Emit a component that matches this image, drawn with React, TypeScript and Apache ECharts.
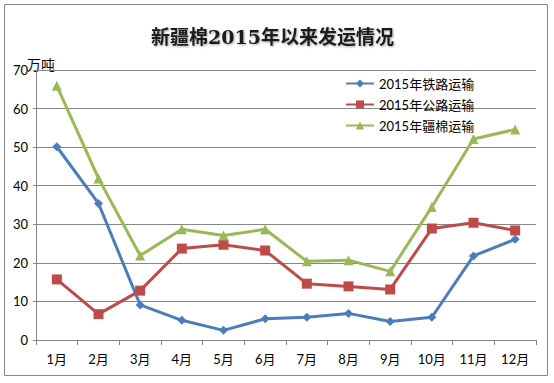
import React, { useEffect, useRef } from "react";
import * as echarts from "echarts";

const categories = ["1月", "2月", "3月", "4月", "5月", "6月", "7月", "8月", "9月", "10月", "11月", "12月"];
const railway = [50.1, 35.4, 9.1, 5.1, 2.5, 5.5, 5.9, 6.9, 4.8, 5.9, 21.8, 26.1];
const road = [15.7, 6.7, 12.8, 23.7, 24.7, 23.2, 14.6, 13.9, 13.1, 28.9, 30.4, 28.4];
const cotton = [65.9, 41.9, 21.9, 28.7, 27.1, 28.7, 20.4, 20.7, 17.8, 34.5, 52.1, 54.6];
const seriesNames = ["2015年铁路运输", "2015年公路运输", "2015年疆棉运输"];
const yTicks = { min: 0, max: 70, interval: 10 };

const FONT = "Lato, 'Noto Sans CJK SC', sans-serif";

export default function App() {
  const ref = useRef<HTMLDivElement>(null);
  useEffect(() => {
    const chart = echarts.init(ref.current!, null, { renderer: "svg" });
    const colors = ["#4A7EBB", "#BE4B48", "#98B954"];
    const symbols = ["diamond", "rect", "triangle"];
    const sizes = [9, 10, 10];
    const data = [railway, road, cotton];
    chart.setOption({
      animation: false,
      backgroundColor: "#ffffff",
      title: {
        text: "新疆棉2015年以来发运情况",
        left: 146,
        top: 22,
        textStyle: {
          fontFamily: "'DejaVu Serif', 'Noto Sans CJK SC', serif",
          fontSize: 19,
          fontWeight: "bold",
          color: "#1a1a1a",
          textShadowColor: "rgba(0,0,0,0.35)",
          textShadowBlur: 2,
          textShadowOffsetX: 1,
          textShadowOffsetY: 1,
        },
      },
      graphic: [
        {
          type: "rect",
          shape: { x: 4.5, y: 4.5, width: 543, height: 371 },
          style: { fill: "none", stroke: "#868686", lineWidth: 1 },
          silent: true,
        },
        {
          type: "text",
          x: 27,
          y: 57,
          style: { text: "万吨", font: "14px 'Noto Sans CJK SC', sans-serif", fill: "#000" },
        },
      ],
      legend: {
        orient: "vertical",
        left: 340,
        top: 72,
        itemGap: 8,
        itemWidth: 28,
        itemHeight: 10,
        textStyle: { fontFamily: FONT, fontSize: 13, color: "#000" },
        data: seriesNames,
      },
      grid: { left: 36, right: 18, top: 70, bottom: 43, containLabel: false },
      xAxis: {
        type: "category",
        data: categories,
        boundaryGap: true,
        axisLine: { lineStyle: { color: "#868686" } },
        axisTick: { show: true, length: 5, alignWithLabel: false, lineStyle: { color: "#868686" } },
        axisLabel: { color: "#000", fontFamily: FONT, fontSize: 13, margin: 12 },
      },
      yAxis: {
        type: "value",
        min: yTicks.min,
        max: yTicks.max,
        interval: yTicks.interval,
        axisLine: { show: true, lineStyle: { color: "#868686" } },
        axisTick: { show: true, length: 3, lineStyle: { color: "#868686" } },
        axisLabel: { color: "#000", fontFamily: FONT, fontSize: 13, margin: 8 },
        splitLine: { lineStyle: { color: "#868686" } },
      },
      series: seriesNames.map((name, i) => ({
        name,
        type: "line",
        data: data[i],
        symbol: symbols[i],
        symbolSize: sizes[i],
        showAllSymbol: true,
        itemStyle: { color: colors[i] },
        lineStyle: { color: colors[i], width: 3 },
      })),
    });
    return () => chart.dispose();
  }, []);
  return (
    <div
      ref={ref}
      style={{ position: "fixed", left: 0, top: 0, width: 554, height: 383 }}
    />
  );
}
